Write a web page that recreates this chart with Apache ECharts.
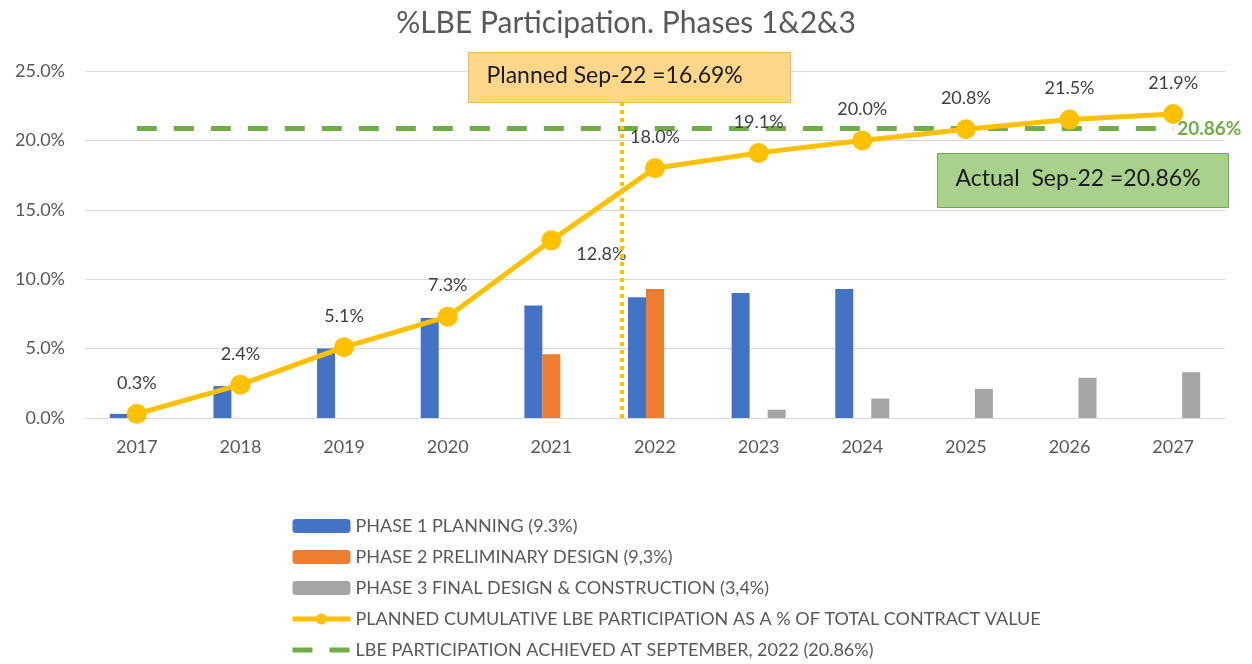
<!DOCTYPE html>
<html>
<head>
<meta charset="utf-8">
<script src="https://cdn.jsdelivr.net/npm/echarts@6/dist/echarts.min.js"></script>
<style>
  html, body { margin: 0; padding: 0; background: #fff; }
  #chart { width: 1252px; height: 664px; }
</style>
</head>
<body>
<div id="chart"></div>
<script>
const years = ['2017', '2018', '2019', '2020', '2021', '2022', '2023', '2024', '2025', '2026', '2027'];
const phase1 = [0.3, 2.3, 5.0, 7.2, 8.1, 8.7, 9.0, 9.3, null, null, null];
const phase2 = [null, null, null, null, 4.6, 9.3, null, null, null, null, null];
const phase3 = [null, null, null, null, null, null, 0.6, 1.4, 2.1, 2.9, 3.3];
const planned = [0.3, 2.4, 5.1, 7.3, 12.8, 18.0, 19.1, 20.0, 20.8, 21.5, 21.9];
const actualSep22 = 20.86;
const sep22Pos = 2021.68;
const yTicks = [0, 5, 10, 15, 20, 25];

const names = [
  'PHASE 1 PLANNING (9.3%)',
  'PHASE 2 PRELIMINARY DESIGN (9,3%)',
  'PHASE 3 FINAL DESIGN & CONSTRUCTION (3,4%)',
  'PLANNED CUMULATIVE LBE PARTICIPATION AS A % OF TOTAL CONTRACT VALUE',
  'LBE PARTICIPATION ACHIEVED AT SEPTEMBER, 2022 (20.86%)'
];

const font = 'Lato, "Open Sans", sans-serif';
const txt = '#595959';

const chart = echarts.init(document.getElementById('chart'));

const option = {
  backgroundColor: '#fff',
  textStyle: { fontFamily: font },
  title: {
    text: '%LBE Participation. Phases 1&2&3',
    left: 'center',
    top: 3,
    textStyle: { fontSize: 30, fontWeight: 'normal', color: txt, fontFamily: font }
  },
  legend: {
    orient: 'vertical',
    left: 285,
    top: 512,
    height: 160,
    itemWidth: 58,
    itemHeight: 14,
    itemGap: 13,
    data: [
      names[0], names[1], names[2],
      { name: names[3], lineStyle: { width: 5 } },
      { name: names[4], itemStyle: { opacity: 0 }, lineStyle: { width: 5 } }
    ],
    textStyle: { fontSize: 18, color: txt, fontFamily: font }
  },
  grid: { left: 85, right: 27, top: 71, bottom: 246 },
  xAxis: [{
    type: 'category',
    data: years,
    axisTick: { show: false },
    axisLine: { lineStyle: { color: '#d9d9d9' } },
    axisLabel: { fontSize: 18, color: txt, margin: 20 }
  }, {
    type: 'value',
    min: 2016.5,
    max: 2027.5,
    show: false
  }],
  yAxis: {
    type: 'value',
    min: yTicks[0],
    max: yTicks[yTicks.length - 1],
    interval: 5,
    axisLine: { show: false },
    axisTick: { show: false },
    splitLine: { lineStyle: { color: '#d9d9d9' } },
    axisLabel: { fontSize: 18, color: txt, margin: 20, formatter: v => v.toFixed(1) + '%' }
  },
  series: [
    { name: names[0], type: 'bar', data: phase1, barWidth: 18, barGap: '0%', itemStyle: { color: '#4472C4' } },
    { name: names[1], type: 'bar', data: phase2, barWidth: 18, barGap: '0%', itemStyle: { color: '#ED7D31' } },
    { name: names[2], type: 'bar', data: phase3, barWidth: 18, barGap: '0%', itemStyle: { color: '#A5A5A5' } },
    {
      name: names[4],
      type: 'line',
      data: years.map(() => actualSep22),
      symbol: 'none',
      z: 3,
      itemStyle: { color: '#70AD47' },
      lineStyle: { color: '#70AD47', width: 5, type: [20, 17] },
      endLabel: {
        show: true,
        formatter: () => actualSep22.toFixed(2) + '%',
        color: '#70AD47',
        fontWeight: 'bold',
        fontSize: 19,
        distance: 4
      }
    },
    {
      name: names[3],
      type: 'line',
      data: planned,
      z: 4,
      symbol: 'circle',
      symbolSize: 20,
      itemStyle: { color: '#FFC000' },
      lineStyle: { color: '#FFC000', width: 5 },
      label: {
        show: true,
        position: 'top',
        distance: 12,
        fontSize: 18,
        color: '#404040',
        formatter: p => p.value.toFixed(1) + '%'
      },
      labelLayout: p => p.dataIndex === 4 ? { dx: 50, dy: 45 } : {}
    },
    {
      name: 'sep22',
      type: 'line',
      xAxisIndex: 1,
      data: [],
      z: 1,
      markLine: {
        silent: true,
        symbol: 'none',
        label: { show: false },
        lineStyle: { color: '#FFC000', width: 4, type: 'dotted' },
        data: [{ xAxis: sep22Pos }]
      }
    }
  ],
  graphic: [
    {
      type: 'group', left: 468, top: 52,
      children: [
        { type: 'rect', z: 200, shape: { x: 0, y: 0, width: 322, height: 50 }, style: { fill: '#FFD78A', stroke: '#F4B942', lineWidth: 1 } },
        { type: 'text', z: 201, x: 18, y: 12, style: { text: 'Planned Sep-22 =16.69%', fontSize: 23, fill: '#1a1a1a', fontFamily: font } }
      ]
    },
    {
      type: 'group', left: 937, top: 153,
      children: [
        { type: 'rect', z: 200, shape: { x: 0, y: 0, width: 291, height: 54 }, style: { fill: '#A9D18E', stroke: '#70AD47', lineWidth: 1 } },
        { type: 'text', z: 201, x: 18, y: 14, style: { text: 'Actual  Sep-22 =20.86%', fontSize: 23, fill: '#1a1a1a', fontFamily: font } }
      ]
    }
  ]
};

chart.setOption(option);
</script>
</body>
</html>
